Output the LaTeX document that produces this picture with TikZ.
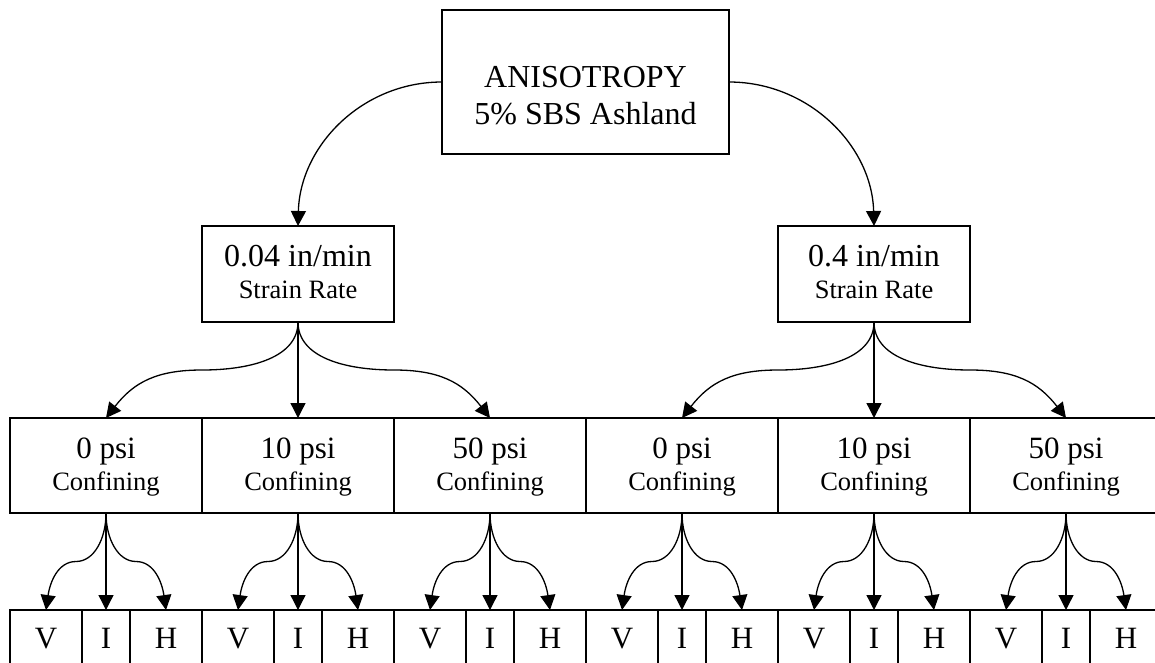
\documentclass[tikz,border=0pt]{standalone}
\usepackage{fontspec}
\setmainfont{Liberation Serif}
\usetikzlibrary{arrows.meta,calc}
\begin{document}
\begin{tikzpicture}[x=1pt,y=-1pt,
  box/.style={draw, line width=1.4pt, inner sep=0pt, outer sep=0pt},
  lbl/.style={anchor=base, inner sep=0pt, outer sep=0pt},
  big/.style={lbl, font=\fontsize{32}{38}\selectfont},
  mid/.style={lbl, font=\fontsize{31}{36}\selectfont},
  small/.style={lbl, font=\fontsize{26.5}{31}\selectfont},
  arr/.style={line width=1.3pt, -{Triangle[length=15pt,width=15pt]}}]
\useasboundingbox (0,0) rectangle (1155,662);
\clip (0,0) rectangle (1155,662);
% top box
\node[box, minimum width=287pt, minimum height=144pt] (top) at (585.5,82) {};
\node[big] (topA) at (585.5,87) {ANISOTROPY};
\node[big] (topB) at (585.5,124) {5\% SBS Ashland};
% strain rate boxes
\foreach \i/\x/\v in {1/298/0.04, 2/874/0.4}{
  \node[box, minimum width=192pt, minimum height=96pt] (s\i) at (\x,274) {};
  \node[big] (sv\i) at (\x,266) {\v\ in/min};
  \node[small] (sl\i) at (\x,298) {Strain Rate};
}
% confining boxes and bottom cells
\foreach \g/\p in {0/0,1/10,2/50,3/0,4/10,5/50}{
  \pgfmathsetmacro\xo{10+192*\g}
  \node[box, minimum width=192pt, minimum height=95pt] (c\g) at (\xo+96,465.5) {};
  \node[mid] (cp\g) at (\xo+96,458) {\p\ psi};
  \node[small] (cl\g) at (\xo+96,490) {Confining};
  \node[box, minimum width=72pt, minimum height=70pt] (v\g) at (\xo+36,645) {};
  \node[box, minimum width=48pt, minimum height=70pt] (i\g) at (\xo+96,645) {};
  \node[box, minimum width=72pt, minimum height=70pt] (h\g) at (\xo+156,645) {};
  \node[mid] (vt\g) at (\xo+36,648) {V};
  \node[mid] (it\g) at (\xo+96,648) {I};
  \node[mid] (ht\g) at (\xo+156,648) {H};
}
% top arcs
\draw[arr] (top.west) .. controls +(-80,0) and +(2,-80) .. (s1.north);
\draw[arr] (top.east) .. controls +(80,0) and +(-2,-80) .. (s2.north);
% strain -> confining
\foreach \s/\a/\b/\c in {1/0/1/2, 2/3/4/5}{
  \draw[arr] (s\s.south) -- (c\b.north);
  \coordinate (sm\a) at ($(s\s.south)!.5!(c\a.north)$);
  \coordinate (sm\c) at ($(s\s.south)!.5!(c\c.north)$);
  \draw[arr] (s\s.south) .. controls +(0,35) and +(50,0) .. (sm\a) .. controls +(-45,0) and +(28,-36) .. (c\a.north);
  \draw[arr] (s\s.south) .. controls +(0,35) and +(-50,0) .. (sm\c) .. controls +(45,0) and +(-28,-36) .. (c\c.north);
}
% confining -> V I H
\foreach \g in {0,...,5}{
  \draw[arr] (c\g.south) -- (i\g.north);
  \coordinate (ml\g) at ($(c\g.south)!.5!(v\g.north)$);
  \coordinate (mr\g) at ($(c\g.south)!.5!(h\g.north)$);
  \draw[arr] (c\g.south) .. controls +(0,26) and +(18,0) .. (ml\g) .. controls +(-18,0) and +(4,-28) .. (v\g.north);
  \draw[arr] (c\g.south) .. controls +(0,26) and +(-18,0) .. (mr\g) .. controls +(18,0) and +(-4,-28) .. (h\g.north);
}
\end{tikzpicture}
\end{document}
